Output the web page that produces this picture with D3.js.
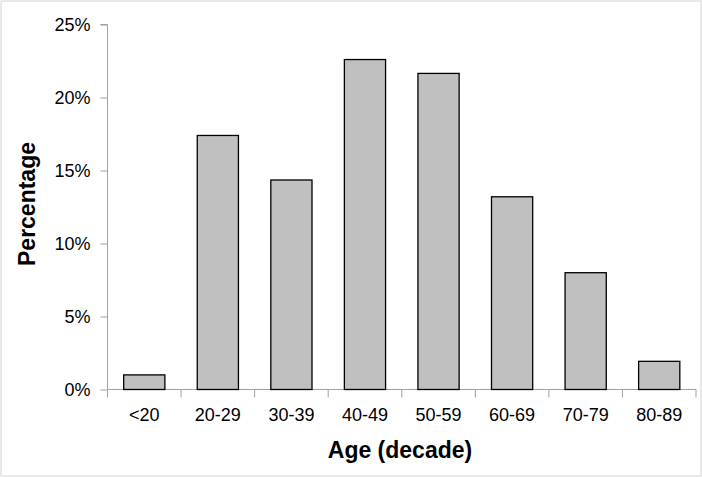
<!DOCTYPE html>
<html>
<head>
<meta charset="utf-8">
<script src="https://cdn.jsdelivr.net/npm/d3@7"></script>
<style>
  body { margin: 0; background: #fff; }
  svg { display: block; font-family: "Liberation Sans", Arial, sans-serif; }
</style>
</head>
<body>
<div class="chart"></div>
<script>
// age groups and share of patients (percent)
var ageGroups = ["<20", "20-29", "30-39", "40-49", "50-59", "60-69", "70-79", "80-89"];
var percents = [1.0, 17.4, 14.35, 22.6, 21.65, 13.2, 8.0, 1.93];
var yTicks = [0, 5, 10, 15, 20, 25];

var width = 702, height = 478;
var margin = {left: 107.5, right: 6, top: 24.5, bottom: 88.5};

const svg = d3.select(".chart").append("svg")
  .attr("width", width)
  .attr("height", height);

// light frame round the whole picture
svg.append("rect")
  .attr("x", 1).attr("y", 1)
  .attr("width", width - 2).attr("height", height - 3)
  .attr("fill", "none")
  .attr("stroke", "#d4d4d4");

var x = d3.scaleBand()
  .domain(ageGroups)
  .range([margin.left, width - margin.right])
  .paddingInner(0.44)
  .paddingOuter(0.22);

var y = d3.scaleLinear()
  .domain([0, 25])
  .range([height - margin.bottom, margin.top]);

// y axis
var yAxis = d3.axisLeft(y)
  .tickValues(yTicks)
  .tickSize(7)
  .tickPadding(10)
  .tickFormat(function(d){ return d + "%"; });

var gy = svg.append("g")
  .attr("transform", "translate(" + margin.left + ",0)")
  .call(yAxis);
gy.select(".domain").attr("stroke", "#a0a0a0").attr("d", "M-7," + y(25) + "H0V" + y(0));
gy.selectAll(".tick line").attr("stroke", "#a0a0a0");
gy.selectAll(".tick text")
  .attr("font-size", 18)
  .attr("font-family", "Liberation Sans, Arial, sans-serif")
  .attr("fill", "#000");

// x axis: ticks sit between the categories
var xBoundaries = d3.range(ageGroups.length + 1);
var step = x.step();
var x0 = margin.left;
var gx = svg.append("g");
gx.append("line")
  .attr("x1", margin.left).attr("x2", width - margin.right)
  .attr("y1", y(0)).attr("y2", y(0))
  .attr("stroke", "#a0a0a0");
gx.selectAll("line.tick")
  .data(xBoundaries)
  .enter().append("line")
  .attr("class", "tick")
  .attr("x1", function(d){ return x0 + d * (width - margin.right - margin.left) / ageGroups.length; })
  .attr("x2", function(d){ return x0 + d * (width - margin.right - margin.left) / ageGroups.length; })
  .attr("y1", y(0)).attr("y2", y(0) + 8)
  .attr("stroke", "#a0a0a0");
gx.selectAll("text")
  .data(ageGroups)
  .enter().append("text")
  .attr("x", function(d){ return x(d) + x.bandwidth() / 2; })
  .attr("y", y(0) + 31)
  .attr("text-anchor", "middle")
  .attr("font-size", 18)
  .text(function(d){ return d; });

// bars
svg.selectAll("rect.bar")
  .data(percents)
  .enter().append("rect")
  .attr("class", "bar")
  .attr("x", function(d, i){ return x(ageGroups[i]); })
  .attr("y", function(d){ return y(d); })
  .attr("width", x.bandwidth())
  .attr("height", function(d){ return y(0) - y(d); })
  .attr("fill", "#c0c0c0")
  .attr("stroke", "#000")
  .attr("stroke-width", 1.3);

// axis titles
svg.append("text")
  .attr("x", 400).attr("y", 458)
  .attr("text-anchor", "middle")
  .attr("font-size", 23)
  .attr("font-weight", "bold")
  .text("Age (decade)");

svg.append("text")
  .attr("transform", "translate(35,204) rotate(-90)")
  .attr("text-anchor", "middle")
  .attr("font-size", 23)
  .attr("font-weight", "bold")
  .text("Percentage");
</script>
</body>
</html>
